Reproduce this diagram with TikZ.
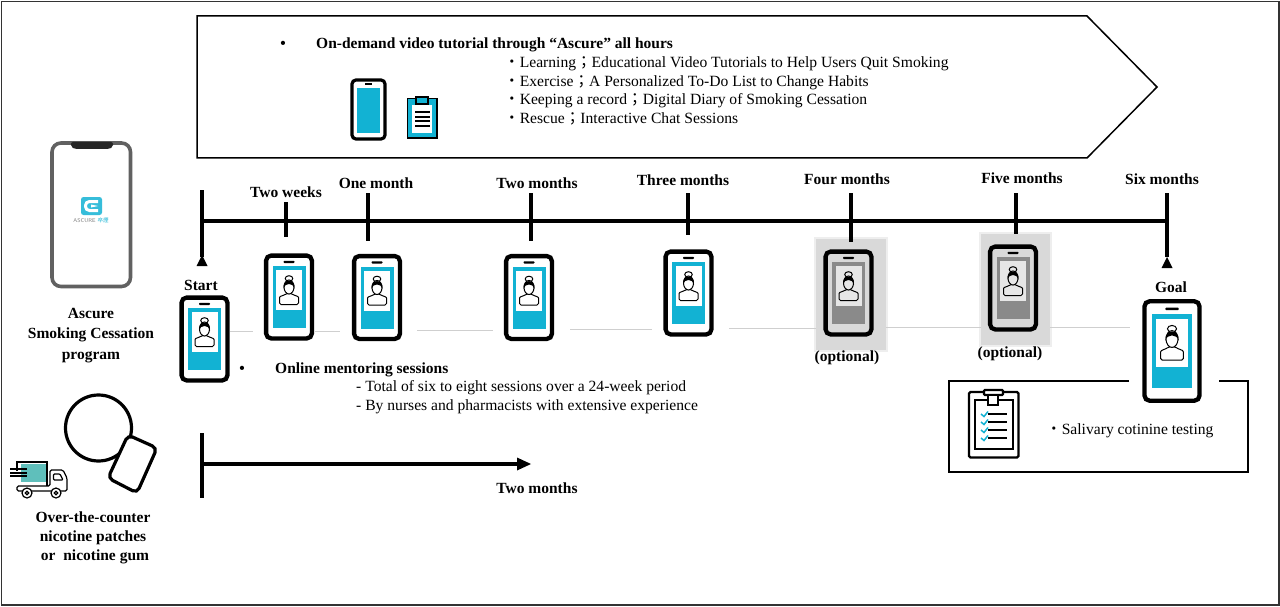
\documentclass[tikz,border=0pt]{standalone}
\usepackage{fontspec}
\setmainfont{Liberation Serif}
\newfontfamily\cjkfont{Noto Sans CJK JP}
\newcommand{\zdot}{{\cjkfont ・}}
\newcommand{\zsemi}{{\cjkfont ；}}
\definecolor{appblue}{HTML}{12B2D3}
\definecolor{optgray}{HTML}{D9D9D9}
\definecolor{optdark}{HTML}{8A8A8A}
\definecolor{optlight}{HTML}{E6E6E6}
\definecolor{truckteal}{HTML}{5FBFBB}
\definecolor{rulegray}{HTML}{CFCFCF}
\newcommand{\phonefill}{white}
\newcommand{\phoneblue}{appblue}
\newcommand{\phonephoto}{white}
\tikzset{
  handset/.pic={
    \draw [line width=4.3pt,rounded corners=5pt,fill=\phonefill] (-22.9,-41.4) rectangle (22.9,41.4);
    \fill [\phoneblue] (-16.5,-31) rectangle (16.5,31);
    \fill [\phonephoto] (-13,-27) rectangle (13,13);
    \fill [black,rounded corners=0.8pt] (-5.5,-36.2) rectangle (5.5,-34);
    \draw [line width=1pt,fill=\phonephoto,rounded corners=1.5pt] (-9.5,7.5) -- (-9.5,2)
      .. controls (-9.5,-1) and (-5,-1.5) .. (-3,-3.5) -- (3,-3.5)
      .. controls (5,-1.5) and (9.5,-1) .. (9.5,2) -- (9.5,7.5) -- cycle;
    \draw [line width=1pt,fill=\phonephoto] (0,-18.5) ellipse (3.8 and 2.8);
    \draw [line width=1pt,fill=\phonephoto] (0,-10) ellipse (5 and 7);
    \fill [black] (-5.5,-8.5) .. controls (-6.5,-19) and (6.5,-19) .. (5.5,-8.5)
      .. controls (4.5,-14.5) and (-4.5,-14.5) .. (-5.5,-8.5);
  }
}
\tikzset{
  boldlabel/.style={font=\fontsize{15.5}{18}\selectfont\bfseries,inner sep=0pt,text height=11.5pt,text depth=0pt},
  bodytext/.style={font=\fontsize{15.6}{18}\selectfont,inner sep=0pt,anchor=west,text height=11.5pt,text depth=0pt},
  timebar/.style={line width=3.5pt},
  tipmark/.style={fill=black},
  linkrule/.style={draw=rulegray,line width=1pt},
  optshade/.style={fill=optgray},
  optglow/.style={fill=optgray,opacity=0.45}
}
\begin{document}
\begin{tikzpicture}[x=1pt,y=-1pt]
  \useasboundingbox (0,0) rectangle (1280,607);
  \draw [line width=1.3pt,draw=black!80] (1.5,1.5) rectangle (1279,605);

  % top banner
  \draw [line width=1.5pt] (197,16) -- (1087,16) -- (1157,87) -- (1087,158) -- (197,158) -- cycle;
  \node (dotA) at (283,43) [boldlabel] {•};
  \node (videohead) at (316,43) [boldlabel,anchor=west] {On-demand video tutorial through “Ascure” all hours};
  \node (videoA) at (504,62) [bodytext] {\zdot Learning\zsemi Educational Video Tutorials to Help Users Quit Smoking};
  \node (videoB) at (504,81) [bodytext] {\zdot Exercise\zsemi A Personalized To-Do List to Change Habits};
  \node (videoC) at (504,99) [bodytext] {\zdot Keeping a record\zsemi Digital Diary of Smoking Cessation};
  \node (videoD) at (504,118) [bodytext] {\zdot Rescue\zsemi Interactive Chat Sessions};
  \draw [line width=3.2pt,rounded corners=4pt] (352,80) rectangle (385,139);
  \fill [appblue] (357,88) rectangle (380,133);
  \fill [black] (365,83.5) rectangle (372,85.5);
  \draw [line width=1.6pt,fill=appblue] (407.5,98.5) rectangle (437,138);
  \fill [white] (412,105) rectangle (432,133);
  \draw [line width=1.6pt,fill=appblue] (416,97) rectangle (428,104);
  \foreach \y in {112,117,121,126}
    \draw [line width=1.2pt] (415,\y) -- (430,\y);

  % phone shades
  \path [optglow] (814,237) rectangle (888,352);
  \path [optglow] (979,232) rectangle (1052,347);
  \path [optshade] (816,239) rectangle (886,350);
  \path [optshade] (981,234) rectangle (1050,345);

  % timeline
  \foreach \name/\x/\ya/\yb in {startT/202/190/257,weekT/286/202/237,monthT/368/193/241,twoT/531/193/241,threeT/688/193/235,fourT/851/193/242,fiveT/1016/193/234,sixT/1167/193/257} {
    \coordinate (\name a) at (\x,\ya);
    \coordinate (\name b) at (\x,\yb);
    \draw [timebar] (\name a) -- (\name b);
  }
  \coordinate (barL) at (202,221);
  \coordinate (barR) at (1167,221);
  \draw [timebar] (barL) -- (barR);
  \fill [tipmark] (202,255) -- (207.5,266) -- (196.5,266) -- cycle;
  \fill [tipmark] (1167,257) -- (1172.5,268) -- (1161.5,268) -- cycle;
  \node (lblWeek) at (286,192) [boldlabel] {Two weeks};
  \node (lblMonth) at (376,183) [boldlabel] {One month};
  \node (lblTwo) at (537,183) [boldlabel] {Two months};
  \node (lblThree) at (683,180) [boldlabel] {Three months};
  \node (lblFour) at (847,179) [boldlabel] {Four months};
  \node (lblFive) at (1022,178) [boldlabel] {Five months};
  \node (lblSix) at (1162,179) [boldlabel] {Six months};
  \node (lblStart) at (201,285) [boldlabel] {Start};
  \node (lblGoal) at (1171,287) [boldlabel] {Goal};

  % gray rule between phones
  \foreach \xa/\xb/\y in {230/253/331,315/340/331,417/493/330,570/652/329,729/816/328,886/981/327,1050/1130/327}
    \draw [linkrule] (\xa,\y) -- (\xb,\y);

  % phones
  \pic at (204.5,339) {handset};
  \pic at (289,297) {handset};
  \pic at (377,297.5) {handset};
  \pic at (529,297.5) {handset};
  \pic at (688.5,293) {handset};
  \pic [scale=1.2] at (1172,351) {handset};
  \begin{scope}
    \renewcommand{\phonefill}{optgray}
    \renewcommand{\phoneblue}{optdark}
    \renewcommand{\phonephoto}{optlight}
    \pic at (848.5,293) {handset};
    \pic at (1013,288) {handset};
  \end{scope}
  \node (optA) at (847,356) [boldlabel] {(optional)};
  \node (optB) at (1010,352) [boldlabel] {(optional)};

  % mentoring text
  \node (dotB) at (242,368) [boldlabel] {•};
  \node (mentorhead) at (275,368) [boldlabel,anchor=west] {Online mentoring sessions};
  \node (mentorA) at (356,386) [bodytext] {- Total of six to eight sessions over a 24-week period};
  \node (mentorB) at (356,405) [bodytext] {- By nurses and pharmacists with extensive experience};

  % left app phone
  \draw [line width=3.6pt,draw=black!62,fill=white,rounded corners=9pt] (52,143) rectangle (130.5,286.5);
  \fill [black!85,rounded corners=2pt] (71,142) -- (113,142) -- (113,147) -- (109,149) -- (75,149) -- (71,147) -- cycle;
  \fill [appblue!85,rounded corners=2.5pt] (81,197) rectangle (102,215);
  \draw [line width=3pt,draw=white,rounded corners=4pt] (98,201.5) -- (85.5,201.5) -- (85.5,210.5) -- (98,210.5);
  \fill [white] (91,204.5) -- (98,206) -- (91,207.5) -- cycle;
  \node (logoName) at (91,220.5) [font=\fontsize{5.5}{6}\selectfont\sffamily,text=black!50,inner sep=0pt] {ASCURE {\cjkfont\color{appblue}卒煙}};
  \node (lblAscure) at (91,313) [boldlabel] {Ascure};
  \node (lblSmoking) at (91,333) [boldlabel] {Smoking Cessation};
  \node (lblProgram) at (91,354) [boldlabel] {program};

  % nicotine
  \draw [line width=3.2pt] (98.5,428) circle (33);
  \draw [line width=3.2pt,fill=white,rounded corners=5pt] (128,435) -- (157,448) -- (137,493) -- (108,478) -- cycle;
  \node (lblOver) at (93,517) [boldlabel] {Over-the-counter};
  \node (lblPatch) at (93,536) [boldlabel] {nicotine patches};
  \node (lblGum) at (95,555) [boldlabel] {or\ \ nicotine gum};

  % truck
  \fill [truckteal] (21,464) rectangle (47,482);
  \draw [line width=1.2pt] (17,471) -- (17,462) -- (47,462) -- (47,486);
  \draw [line width=1.2pt,rounded corners=1.5pt] (50,486) -- (50,470) -- (63,470) -- (67,478) -- (67,491) -- (17,491) -- (17,486) -- cycle;
  \draw [line width=1.2pt,rounded corners=1pt] (53.5,474) -- (60,474) -- (63,480) -- (53.5,480) -- cycle;
  \foreach \y in {469,473,476}
    \draw [line width=1.1pt] (10,\y) -- (27,\y);
  \foreach \x in {27,56} {
    \draw [line width=1.2pt,fill=white] (\x,493) circle (5);
    \draw [line width=1.2pt] (\x,493) circle (1.8);
  }

  % two months arrow
  \coordinate (spanV1) at (202,433);
  \coordinate (spanV2) at (202,498);
  \coordinate (spanL) at (202,464);
  \coordinate (spanR) at (520,464);
  \draw [timebar] (spanV1) -- (spanV2);
  \draw [timebar] (spanL) -- (spanR);
  \fill [tipmark] (531,464) -- (517,457.5) -- (517,470.5) -- cycle;
  \node (lblSpan) at (537,488) [boldlabel] {Two months};

  % testing box
  \draw [line width=1.5pt] (1129,381) -- (949,381) -- (949,472) -- (1248,472) -- (1248,381) -- (1219,381);
  \draw [line width=2.2pt,rounded corners=1.5pt] (969,392) rectangle (1018.5,457.5);
  \draw [line width=2.2pt,fill=white] (975,400) rectangle (1013,449);
  \draw [line width=2.2pt,fill=white,rounded corners=1pt] (984,390) rectangle (1003,395);
  \draw [line width=2.2pt,fill=white] (988,395) rectangle (998,405);
  \foreach \y in {414,422,430,438} {
    \draw [line width=1.5pt] (988,\y) -- (1007,\y);
    \draw [line width=1.5pt,draw=appblue] (981,\y) -- (984,\y+2.5) -- (988,\y-2.5);
  }
  \node (lblSaliva) at (1046,429) [bodytext] {\zdot Salivary cotinine testing};
\end{tikzpicture}
\end{document}
